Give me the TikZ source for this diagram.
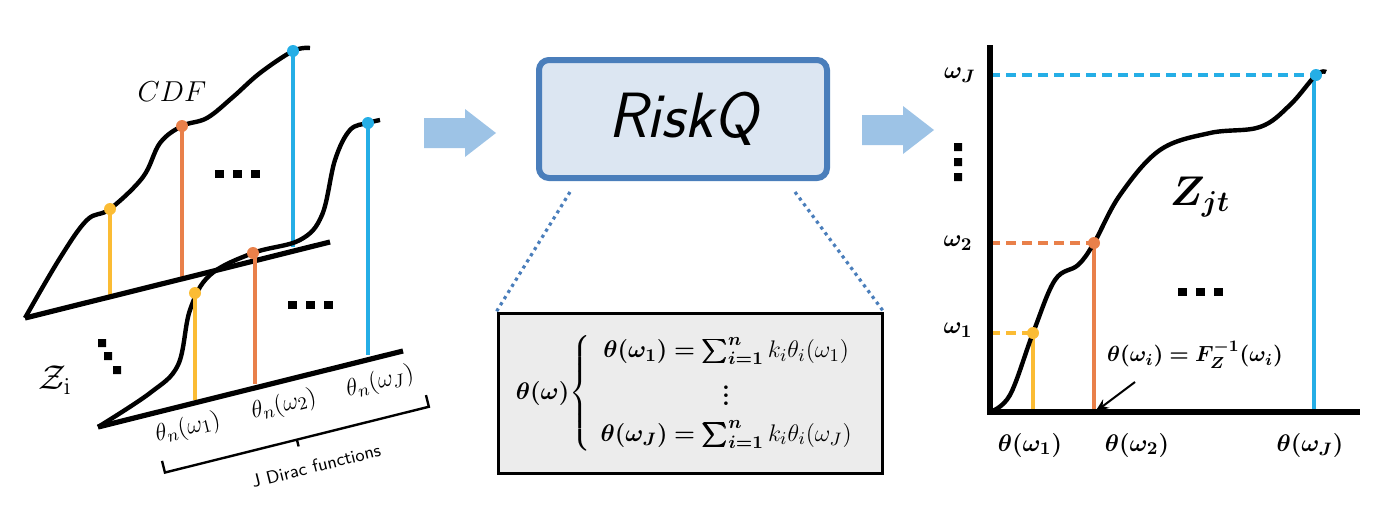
\documentclass[tikz,border=0pt]{standalone}
\usepackage{amsmath,bm}
\usetikzlibrary{decorations.pathreplacing,arrows.meta}
\definecolor{cy}{HTML}{FBBC34}
\definecolor{co}{HTML}{E9804A}
\definecolor{cb}{HTML}{25AEE6}
\definecolor{arr}{HTML}{9DC3E6}
\definecolor{bfill}{HTML}{DCE6F2}
\definecolor{bdraw}{HTML}{4A7EBB}
\tikzset{curve/.style={line width=2.2pt,black},
 base/.style={line width=2.6pt,black},
 stem/.style={line width=1.8pt},
 dotn/.style={circle,inner sep=0pt,minimum size=6pt,fill=#1},
 dashl/.style={line width=1.6pt,dash pattern=on 5pt off 3pt},
 lab/.style={inner sep=0pt,font=\fontsize{13}{13}\selectfont}}
\newcommand{\sqdots}[2]{\fill[black] (#1-22,#2-4) rectangle ++(9,8); \fill[black] (#1-4,#2-4) rectangle ++(9,8); \fill[black] (#1+14,#2-4) rectangle ++(9,8);}
\newcommand{\blkarrow}[2]{\fill[arr] (#1-36,#2-15) -- (#1+5,#2-15) -- (#1+5,#2-24) -- (#1+36,#2) -- (#1+5,#2+24) -- (#1+5,#2+15) -- (#1-36,#2+15) -- cycle;}
\begin{document}
\begin{tikzpicture}[x=0.5pt,y=-0.5pt]
\useasboundingbox (0,0) rectangle (1388,504);
% back plane
\coordinate (b0) at (25,318); \coordinate (b1) at (330,242);
\draw[curve] plot[smooth,tension=0.6] coordinates {(25,318) (60,258) (87,220) (110,209) (143,177) (160,143) (182,126) (207,118) (233,97) (260,73) (293,51) (310,48)};
\draw[stem,cy] (110,209) -- (110,295);
\draw[stem,co] (182,126) -- (182,277);
\draw[stem,cb] (293,51) -- (293,247);
\draw[base] (b0) -- (b1);
\node[dotn=cy] (yb) at (110,209) {};
\node[dotn=co] (ob) at (182,126) {};
\node[dotn=cb] (bb) at (293,51) {};
\node[lab,font=\fontsize{14}{14}\selectfont] (cdf) at (172,92) {$CDF$};
\sqdots{237}{174}
% front plane
\coordinate (f0) at (98,427); \coordinate (f1) at (403,351);
\draw[stem,co] (255,253) -- (255,384);
\draw[stem,cb] (368,123) -- (368,355);
\draw[curve] plot[smooth,tension=0.6] coordinates {(98,427) (150,393) (178,365) (190,310) (210,275) (253,253) (300,240) (322,215) (335,160) (350,130) (368,123) (380,120)};
\draw[stem,cy] (195,293) -- (195,400);
\draw[base] (f0) -- (f1);
\node[dotn=cy] (yf) at (195,293) {};
\node[dotn=co] (of) at (253,253) {};
\node[dotn=cb] (bf) at (368,123) {};
\sqdots{310}{305}
\fill[black] (98,339) rectangle ++(8,8) (104,352) rectangle ++(8,8) (113,366) rectangle ++(8,8);
\node[lab,font=\fontsize{18}{18}\selectfont] (zi) at (55,380) {$\mathcal{Z}_{\mathrm{i}}$};
\node[lab,rotate=14] (t1) at (188,428) {$\theta_n(\omega_1)$};
\node[lab,rotate=14] (t2) at (284,405) {$\theta_n(\omega_2)$};
\node[lab,rotate=14] (t3) at (380,382) {$\theta_n(\omega_J)$};
\draw[line width=1.2pt,rotate around={14:(294,428)}] (158,428) -- (158,440) -- (430,440) -- (430,428) (294,440) -- (294,447);
\node[lab,rotate=14,font=\sffamily\fontsize{9}{9}\selectfont] (jd) at (316,466) {J Dirac functions};
% block arrows
\blkarrow{460}{133}
\blkarrow{898}{130}
% RiskQ
\node[draw=bdraw,fill=bfill,line width=3pt,rounded corners=5pt,minimum width=144pt,minimum height=59pt,font=\sffamily\itshape\fontsize{32}{32}\selectfont] (rq) at (683,119) {RiskQ};
\node[draw=black,fill=gray!15,line width=1.5pt,minimum width=192pt,minimum height=80pt,inner sep=0pt] (fb) at (690,393) {};
\draw[bdraw,line width=1.6pt,dotted] (570,192) -- (fb.north west);
\draw[bdraw,line width=1.6pt,dotted] (795,192) -- (fb.north east);
\node[lab,font=\fontsize{12.5}{12.5}\selectfont] (eq) at (690,393) {$\boldsymbol{\theta(\omega)}\!\left\{\begin{array}{c}\boldsymbol{\theta(\omega_1)=\sum_{i=1}^n} k_i\theta_i(\omega_1)\\[4pt] \boldsymbol{\vdots}\\[4pt] \boldsymbol{\theta(\omega_J)=\sum_{i=1}^n} k_i\theta_i(\omega_J)\end{array}\right.$};
% right chart
\coordinate (o) at (990,412);
\coordinate (ytop) at (990,45);
\coordinate (xend) at (1360,412);
\draw[dashl,cb] (990,75) -- (1316,75);
\draw[dashl,co] (990,243) -- (1094,243);
\draw[dashl,cy] (990,333) -- (1033,333);
\draw[stem,cy] (1033,333) -- (1033,412);
\draw[stem,co] (1094,243) -- (1094,412);
\draw[stem,cb] (1314,75) -- (1314,412);
\draw[curve] plot[smooth,tension=0.6] coordinates {(990,412) (1010,395) (1033,333) (1055,280) (1078,265) (1094,243) (1120,195) (1160,150) (1210,133) (1260,127) (1290,105) (1316,75) (1326,72)};
\draw[base] (ytop) -- (o) -- (xend);
\node[dotn=cy] (yr) at (1033,333) {};
\node[dotn=co] (or) at (1094,243) {};
\node[dotn=cb] (br) at (1316,75) {};
\node[lab] (wj) at (960,75) {$\boldsymbol{\omega_J}$};
\fill[black] (954,143) rectangle ++(8,8) (954,158) rectangle ++(8,8) (954,173) rectangle ++(8,8);
\node[lab] (w2) at (958,243) {$\boldsymbol{\omega_2}$};
\node[lab] (w1) at (958,330) {$\boldsymbol{\omega_1}$};
\node[lab,font=\fontsize{20}{20}\selectfont] (zjt) at (1200,197) {$\boldsymbol{Z_{jt}}$};
\sqdots{1200}{292}
\node[lab,font=\fontsize{11}{11}\selectfont] (fz) at (1195,355) {$\boldsymbol{\theta(\omega_i)=F_Z^{-1}(\omega_i)}$};
\coordinate (ap) at (1095,412);
\draw[-{Stealth[length=7pt]},line width=1pt] (1135,382) -- (ap);
\node[lab] (x1) at (1030,445) {$\boldsymbol{\theta(\omega_1)}$};
\node[lab] (x2) at (1137,445) {$\boldsymbol{\theta(\omega_2)}$};
\node[lab] (x3) at (1310,445) {$\boldsymbol{\theta(\omega_J)}$};
\end{tikzpicture}
\end{document}
